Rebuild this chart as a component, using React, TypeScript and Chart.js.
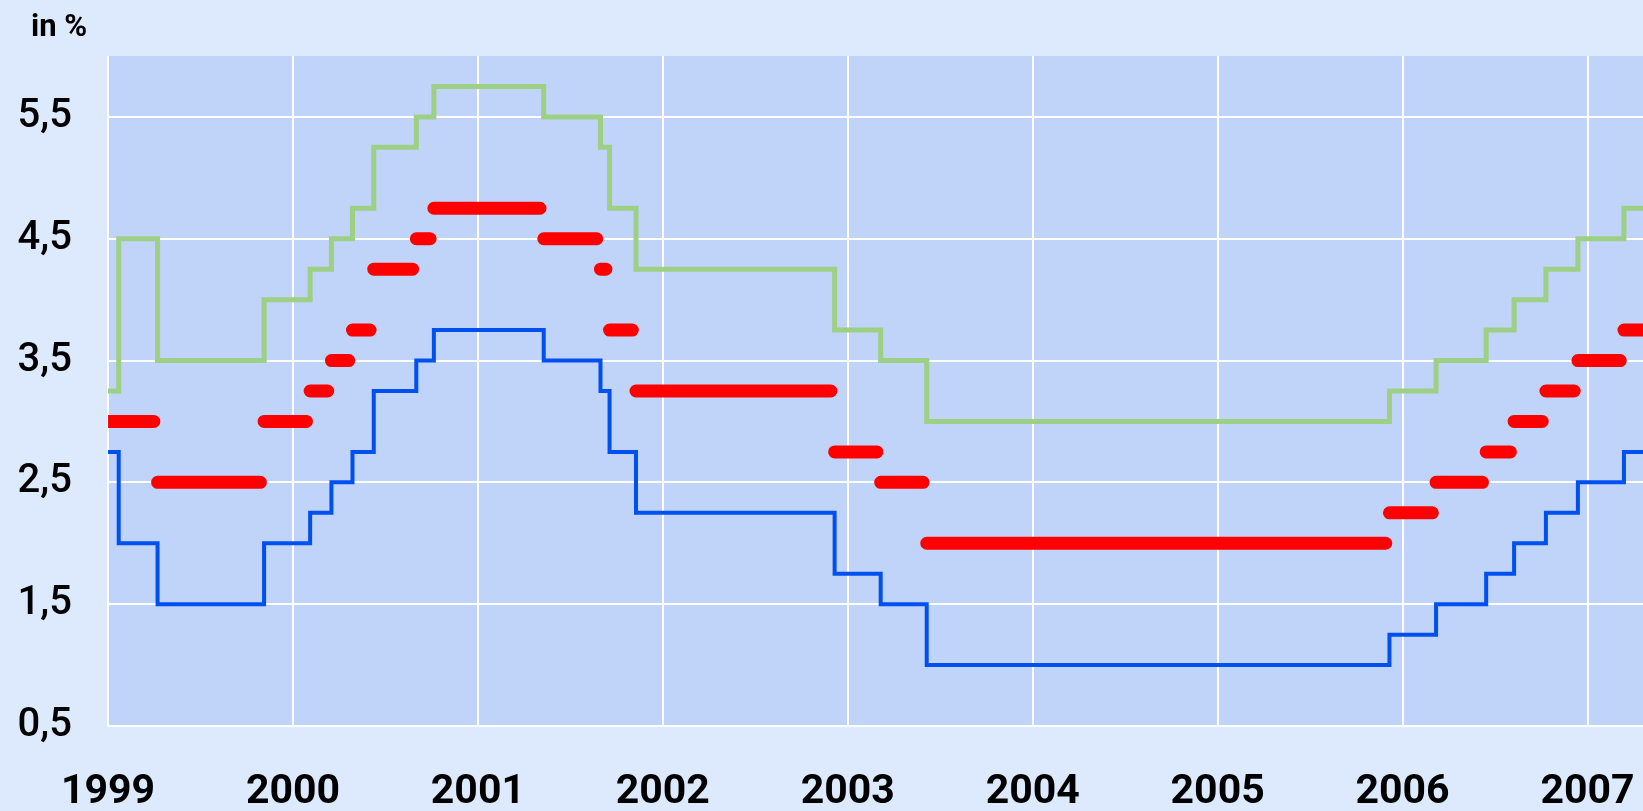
import React, { useEffect, useRef } from 'react';
import { Chart, registerables } from 'chart.js';

Chart.register(...registerables);

// Dates of ECB key rate changes (decimal years)
const changeDates = [
  1999.0, 1999.058, 1999.268, 1999.844, 2000.093, 2000.208, 2000.322, 2000.437,
  2000.667, 2000.762, 2001.356, 2001.663, 2001.712, 2001.855, 2002.929, 2003.178,
  2003.427, 2005.929, 2006.181, 2006.452, 2006.603, 2006.775, 2006.948, 2007.197,
];
// Deposit facility rate (blue)
const depositRate = [
  2.75, 2.0, 1.5, 2.0, 2.25, 2.5, 2.75, 3.25, 3.5, 3.75, 3.5, 3.25, 2.75, 2.25,
  1.75, 1.5, 1.0, 1.25, 1.5, 1.75, 2.0, 2.25, 2.5, 2.75,
];
// Main refinancing operations rate (red)
const mainRate = [
  3.0, 3.0, 2.5, 3.0, 3.25, 3.5, 3.75, 4.25, 4.5, 4.75, 4.5, 4.25, 3.75, 3.25,
  2.75, 2.5, 2.0, 2.25, 2.5, 2.75, 3.0, 3.25, 3.5, 3.75,
];
// Marginal lending facility rate (green)
const marginalRate = [
  3.25, 4.5, 3.5, 4.0, 4.25, 4.5, 4.75, 5.25, 5.5, 5.75, 5.5, 5.25, 4.75, 4.25,
  3.75, 3.5, 3.0, 3.25, 3.5, 3.75, 4.0, 4.25, 4.5, 4.75,
];

const yearTicks = [1999, 2000, 2001, 2002, 2003, 2004, 2005, 2006, 2007];
const rateTicks = [0.5, 1.5, 2.5, 3.5, 4.5, 5.5];
const unitLabel = 'in %';

const X_MIN = 1999;
const X_MAX = 2007.3;
const Y_MIN = 0.5;
const Y_MAX = 6.0;
const RED_GAP = 0.02; // last weekly observation before the next change

const OUTER_BG = '#dde9fd';
const PLOT_BG = '#c0d3f8';
const FONT = 'Roboto, "Noto Sans", sans-serif';

function stepData(values: number[]) {
  const pts: { x: number; y: number }[] = changeDates.map((d, i) => ({ x: d, y: values[i] }));
  pts.push({ x: X_MAX + 0.1, y: values[values.length - 1] });
  return pts;
}

function segmentData(values: number[]) {
  const pts: { x: number; y: number | null }[] = [];
  for (let i = 0; i < changeDates.length; i++) {
    const next = i + 1 < changeDates.length ? changeDates[i + 1] : X_MAX + 0.1;
    const start = changeDates[i];
    if (i === 0 || values[i] !== values[i - 1]) {
      pts.push({ x: start, y: values[i] });
    }
    if (i + 1 < changeDates.length && values[i + 1] === values[i]) continue;
    const end = i + 1 < changeDates.length ? next - RED_GAP : next;
    pts.push({ x: end, y: values[i] });
    pts.push({ x: end, y: null });
  }
  return pts;
}

const backgroundPlugin = {
  id: 'bgPlugin',
  beforeDraw(chart: any) {
    const { ctx, chartArea, width, height } = chart;
    ctx.save();
    ctx.fillStyle = OUTER_BG;
    ctx.fillRect(0, 0, width, height);
    ctx.fillStyle = PLOT_BG;
    ctx.fillRect(chartArea.left, chartArea.top, chartArea.right - chartArea.left, chartArea.bottom - chartArea.top);
    ctx.restore();
  },
  afterDraw(chart: any) {
    const { ctx } = chart;
    ctx.save();
    ctx.font = `bold 31px ${FONT}`;
    ctx.fillStyle = '#000';
    ctx.textBaseline = 'alphabetic';
    ctx.textAlign = 'left';
    ctx.fillText(unitLabel, 31, 36);
    ctx.restore();
  },
};

export default function App() {
  const ref = useRef<HTMLCanvasElement | null>(null);

  useEffect(() => {
    document.body.style.margin = '0';
    document.body.style.background = OUTER_BG;
    if (!ref.current) return;
    const chart = new Chart(ref.current, {
      type: 'line',
      data: {
        datasets: [
          {
            label: 'Main refinancing operations',
            data: segmentData(mainRate) as any,
            borderColor: '#ff0000',
            borderWidth: 13,
            borderCapStyle: 'round',
            pointRadius: 0,
            spanGaps: false,
            order: 0,
          },
          {
            label: 'Marginal lending facility',
            data: stepData(marginalRate),
            borderColor: '#9dcf85',
            borderWidth: 5,
            stepped: 'before',
            pointRadius: 0,
            order: 1,
          },
          {
            label: 'Deposit facility',
            data: stepData(depositRate),
            borderColor: '#0050f0',
            borderWidth: 4,
            stepped: 'before',
            pointRadius: 0,
            order: 2,
          },
        ],
      },
      options: {
        animation: false,
        responsive: false,
        devicePixelRatio: 1,
        parsing: false,
        layout: { padding: { top: 56, right: 0, left: 0, bottom: 0 } },
        plugins: {
          legend: { display: false },
          tooltip: { enabled: false },
        },
        scales: {
          x: {
            type: 'linear',
            min: X_MIN,
            max: X_MAX,
            afterBuildTicks: (scale: any) => {
              scale.ticks = yearTicks.map((v) => ({ value: v }));
            },
            afterFit: (scale: any) => {
              scale.height = 85;
              scale.paddingLeft = 0;
              scale.paddingRight = 0;
            },
            grid: { color: '#ffffff', lineWidth: 2, drawTicks: false },
            border: { display: false },
            ticks: {
              callback: (v: any) => String(v),
              font: { family: FONT, size: 41, weight: 'bold' },
              color: '#000',
              padding: 42,
              maxRotation: 0,
              autoSkip: false,
            },
          },
          y: {
            type: 'linear',
            min: Y_MIN,
            max: Y_MAX,
            afterBuildTicks: (scale: any) => {
              scale.ticks = rateTicks.map((v) => ({ value: v }));
            },
            afterFit: (scale: any) => {
              scale.width = 108;
              scale.paddingTop = 0;
              scale.paddingBottom = 0;
            },
            grid: { color: '#ffffff', lineWidth: 2, drawTicks: false },
            border: { display: false },
            ticks: {
              callback: (v: any) => Number(v).toFixed(1).replace('.', ','),
              font: { family: FONT, size: 40, weight: '500' },
              color: '#000',
              padding: 36,
            },
          },
        },
      },
      plugins: [backgroundPlugin],
    });
    return () => chart.destroy();
  }, []);

  return (
    <div style={{ width: 1643, height: 811, background: OUTER_BG }}>
      <canvas ref={ref} width={1643} height={811} style={{ display: 'block' }} />
    </div>
  );
}
